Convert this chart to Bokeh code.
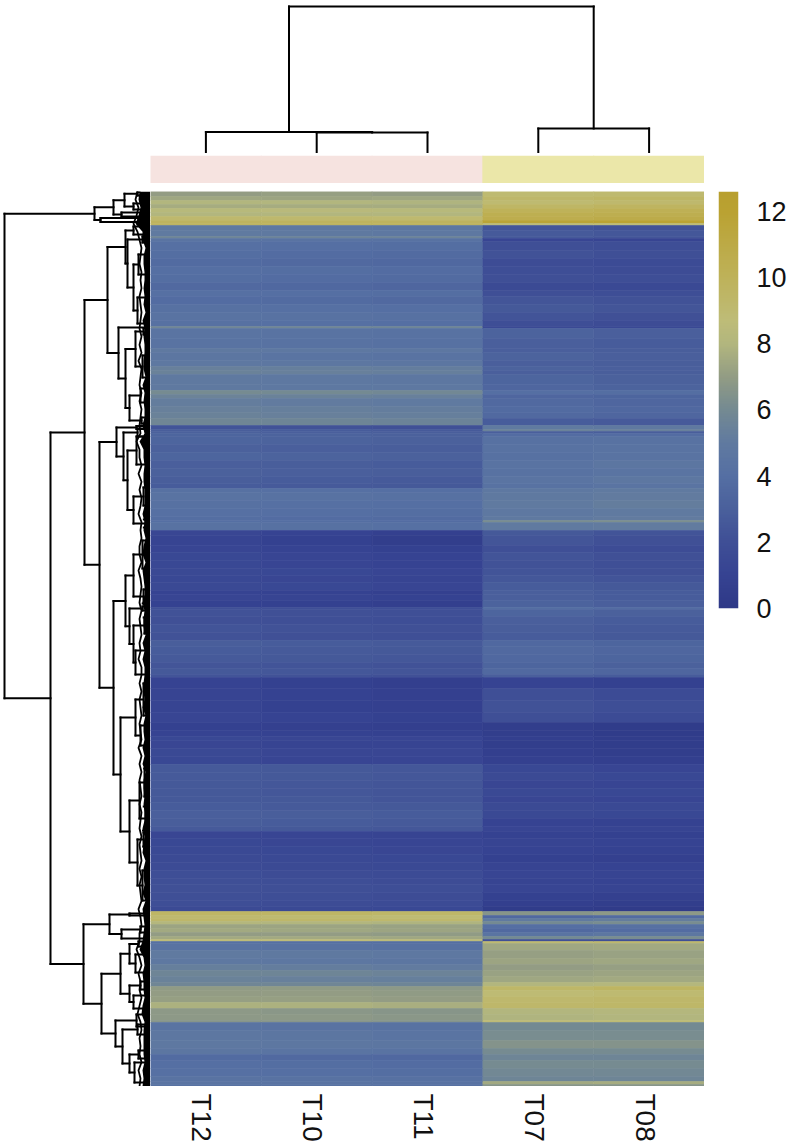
import numpy as np
from bokeh.core.properties import value
from bokeh.embed import file_html
from bokeh.resources import INLINE
from bokeh.layouts import column, row
from bokeh.models import (ColumnDataSource, FactorRange, LinearColorMapper,
                          Range1d, Spacer, FixedTicker)
from bokeh.plotting import figure
from bokeh.transform import transform

samples = ["T12", "T10", "T11", "T07", "T08"]
groups = ["A", "A", "A", "B", "B"]
group_colors = {"A": "#F6E3E0", "B": "#EBE7A9"}
ticks = [0, 2, 4, 6, 8, 10, 12]
vmax = 12.6
stop_values = [0, 1, 2, 3, 4, 5, 6, 7, 8, 8.7, 10, 12, 12.6]
stop_colors = ["#2E3987", "#364392", "#3F4F96", "#4A609C", "#556FA3", "#607AA0", "#748A92",
               "#929C84", "#B2B67E", "#BEBC78", "#BEB25A", "#BAA232", "#B89F2E"]

row_span = [5,4,4,4,4,4,4,3,2,5, 6,2,3,9,8,8,8,8,8,6, 8,8,8,6,2,10,10,4,8,6,
            4,4,10,6,4,4,8,6,6,7, 4,2,2,3,8,8,8,8,8,7, 5,4,8,8,8,4,2,8,5,10,
            7,8,8,7,7,8,4,6,7,2, 7,8,8,8,6,8,8,6,6,3, 11,12,12,10,8,6,4,8,8,8,
            8,8,8,8,6,8,8,8,5,7, 8,8,8,8,8,6,8,8,6,5, 4,3,3,3,4,4,4,3,2,2,
            7,8,6,6,6,6,4,4,6,6, 6,6,6,2,8,10,8,6,6,8, 8,5,3,2]

T12 = [7.0,7.4,8.0,7.6,8.3,8.0,9.2,9.8,9.7,4.9, 5.0,5.7,4.5,4.1,3.9,3.7,4.0,3.9,3.6,4.1,
       3.8,4.2,4.4,4.2,5.8,4.5,4.4,4.9,4.6,4.8, 5.4,5.5,4.9,4.9,6.1,5.6,5.2,5.4,5.5,5.8,
       2.3,2.9,3.1,3.3,3.3,3.1,3.3,3.0,3.1,2.9, 2.8,4.2,4.4,4.2,4.1,3.9,4.0,4.3,1.3,1.1,
       1.2,1.4,1.4,1.5,1.4,1.5,1.0,1.2,0.9,2.1, 2.2,2.1,2.3,2.2,2.9,2.8,2.7,2.4,2.6,2.3,
       1.0,1.1,1.1,1.2,0.8,1.0,1.4,1.3,1.5,1.4, 2.7,2.7,2.6,2.6,2.6,2.8,3.0,2.9,2.7,1.3,
       1.4,1.5,1.6,1.7,1.9,2.0,2.1,2.0,1.9,1.6, 9.5,9.1,9.3,8.1,7.3,7.5,7.0,7.5,8.7,4.1,
       4.4,5.0,4.8,5.3,5.7,5.5,5.8,6.9,7.0,7.1, 7.8,6.8,6.8,6.6,4.5,4.7,4.8,4.6,3.7,4.0,
       4.1,4.4,4.5,4.3]
T10 = [7.1,7.3,8.0,7.6,8.4,8.0,9.2,9.8,9.8,4.8, 4.9,5.6,4.4,4.0,3.8,3.6,3.9,3.8,3.5,4.0,
       3.7,4.1,4.3,4.1,5.8,4.4,4.3,4.8,4.5,4.7, 5.3,5.4,4.8,4.8,6.0,5.5,5.1,5.3,5.4,5.7,
       2.2,2.8,3.0,3.2,3.2,3.0,3.2,2.9,3.0,2.8, 2.7,4.1,4.3,4.1,4.0,3.8,3.9,4.2,1.0,0.8,
       1.0,1.2,1.2,1.4,1.3,1.4,0.9,1.1,0.8,2.0, 2.1,2.0,2.2,2.1,2.8,2.7,2.6,2.3,2.5,2.2,
       0.8,0.9,0.8,1.0,0.7,0.9,1.3,1.1,1.3,1.2, 2.6,2.6,2.5,2.5,2.6,2.7,2.9,2.8,2.6,1.2,
       1.3,1.4,1.5,1.6,1.8,1.9,2.0,1.9,1.8,1.5, 9.5,9.0,9.3,8.0,7.3,7.4,7.0,7.5,8.7,4.0,
       4.3,4.9,4.7,5.2,5.7,5.4,5.8,6.9,7.0,7.1, 7.8,6.7,6.8,6.6,4.4,4.6,4.7,4.5,3.6,3.9,
       4.0,4.3,4.4,4.3]
T11 = [7.0,7.4,7.9,7.6,8.3,8.0,9.1,9.8,9.8,4.7, 4.8,5.6,4.3,3.9,3.7,3.5,3.8,3.7,3.4,3.9,
       3.6,4.0,4.2,4.0,5.7,4.3,4.2,4.7,4.4,4.6, 5.2,5.3,4.7,4.8,5.9,5.4,5.0,5.2,5.3,5.6,
       2.1,2.7,2.9,3.1,3.1,2.9,3.1,2.8,2.9,2.7, 2.6,4.0,4.2,4.0,3.9,3.7,3.8,4.1,0.7,0.5,
       0.8,1.0,1.0,1.2,1.1,1.2,0.7,0.9,0.6,1.9, 2.0,1.9,2.1,2.0,2.7,2.6,2.5,2.2,2.4,2.1,
       0.6,0.7,0.7,0.8,0.6,0.8,1.2,1.1,1.3,1.2, 2.5,2.5,2.4,2.4,2.4,2.6,2.8,2.7,2.5,1.1,
       1.2,1.3,1.4,1.5,1.7,1.8,1.9,1.8,1.7,1.4, 9.4,8.9,9.2,7.9,7.2,7.3,6.9,7.4,8.6,3.9,
       4.2,4.8,4.6,5.1,5.6,5.3,5.7,6.8,6.9,7.0, 7.7,6.6,6.7,6.5,4.3,4.5,4.6,4.4,3.5,3.8,
       3.9,4.2,4.3,4.2]
T07 = [9.0,9.3,9.0,9.5,10.0,10.4,10.6,11.8,8.5,2.4, 2.7,2.6,1.2,2.0,2.2,1.8,1.9,2.0,1.6,2.0,
       2.4,2.6,2.3,1.9,1.5,3.2,3.0,3.0,3.2,3.0, 3.2,3.0,3.3,3.4,4.0,3.4,3.6,3.7,3.6,2.8,
       5.0,5.5,3.0,3.8,4.2,4.3,4.2,4.4,4.3,4.5, 4.3,4.8,4.9,5.0,4.8,4.9,6.2,5.0,2.6,2.4,
       2.0,2.3,2.2,2.3,2.5,2.8,3.0,3.0,3.2,3.9, 3.3,3.0,2.9,2.8,3.5,3.6,3.5,3.3,3.6,3.0,
       1.0,2.0,2.2,2.0,0.5,0.5,0.6,0.5,0.6,0.7, 1.4,1.6,1.3,1.5,1.3,1.6,1.5,1.0,1.2,0.9,
       1.1,1.0,0.8,1.1,1.2,1.1,1.2,0.8,0.6,0.3, 6.6,3.5,5.0,6.0,4.0,3.6,4.5,6.0,2.0,9.0,
       7.4,7.1,7.3,7.0,7.2,7.4,8.0,9.4,8.9,9.2, 9.3,8.0,7.9,8.8,6.0,6.2,6.5,6.1,5.7,6.1,
       5.9,5.7,7.5,6.6]
T08 = [9.1,9.5,9.2,9.7,10.2,10.5,10.8,11.9,8.6,2.2, 2.5,2.4,1.1,1.9,2.0,1.7,1.8,1.9,1.5,1.9,
       2.2,2.4,2.1,1.8,1.4,3.0,2.8,2.9,3.0,2.9, 3.0,2.9,3.1,3.2,3.9,3.3,3.4,3.5,3.4,2.7,
       4.9,5.4,2.9,3.8,4.3,4.4,4.4,4.6,4.5,4.7, 4.5,5.0,5.1,5.2,5.0,5.1,6.3,5.1,2.3,2.1,
       1.8,2.1,2.0,2.1,2.3,2.6,2.8,2.8,3.0,3.8, 3.1,2.8,2.7,2.6,3.3,3.4,3.3,3.1,3.4,2.8,
       0.8,1.7,1.9,1.7,0.3,0.3,0.4,0.4,0.5,0.6, 1.2,1.4,1.2,1.4,1.2,1.5,1.4,0.9,1.1,0.8,
       1.0,0.9,0.7,1.0,1.1,1.0,1.1,0.7,0.5,0.2, 6.8,3.7,5.2,6.2,4.2,3.8,4.7,6.2,2.0,9.2,
       7.5,7.2,7.4,7.1,7.3,7.5,8.1,9.6,9.0,9.3, 9.4,8.1,8.0,8.9,6.0,6.2,6.5,6.1,5.7,6.1,
       5.9,5.7,7.6,6.6]

# Dendrograms: (height, first child, second child); a bare number is a leaf position.
row_tree = (146,
  (56,
    (37,
      (26, (13, 191.5, 195), (17, 203, 209)),
      (29, 212, 216)),
    (50, 217.5, 221.5)),
  (100,
    (66,
      (43,
        (25,
          (17, 226, 234),
          (23,
            (8, 236, 242),
            (17, (12, 254, 274), (13, 297, 323)))),
        (32,
          327,
          (25,
            (15, (7, 328, 334), (8, 355, 377)),
            (21, (10, 388, 402), (9, 417, 423))))),
      (51,
        (34,
          (14, 425.5, 428.5),
          (27,
            (13, 428, 436),
            (23,
              (14, 436, 464),
              (17, (7, 487, 505), (5, 519, 527))))),
        (37,
          (25,
            (17, (8, 540, 568), (7, 589, 603)),
            (21,
              (8, 606, 610),
              (17, (6, 617, 633), (15, 650, 674)))),
          (30,
            (15, (7, 683, 715), (10, 725, 745)),
            (21,
              (11, (6, 768, 796), (5, 806, 830)),
              (13, (7, 832, 846), (8, 870, 900))))))),
    (67,
      (41, (21, 913, 915), (29, (10, 926, 932), 938)),
      (49,
        (30,
          (21, (12, 941, 946), (15, 954, 972)),
          (21, (10, 981, 989), (17, 995, 1008))),
        (35,
          (14, 1014, 1026),
          (28,
            (13, 1024, 1034),
            (21, (12, 1050, 1058), (16, 1062, 1082))))))))

col_tree = (147, (21.5, 0.5, (21, 1.5, 2.5)), (25, 3.5, 4.5))

# Dense twigs next to the heatmap: outer edge and solid core depth, one reading every 8 rows.
fringe_edge = [13,15,12,14,17,13,11,9,10,11, 9,10,9,11,10,9,10,11,9,11, 9,12,9,10,11,9,11,9,10,11,
               10,14,11,11,9,12,9,11,9,10, 12,9,10,9,11,11,9,12,10,9, 10,11,9,11,10,9,11,10,12,9,
               9,11,9,11,10,9,11,10,9,12, 9,11,9,11,10,9,11,9,10,11, 9,11,10,9,11,9,11,10,9,12,
               10,9,11,11,14,11,9,12,10,11, 9,11,13,10,9,11,10,11,9,12, 10,11]
fringe_core = [11,12,10,12,15,8,8,5,7,7, 6,6,7,6,7,5,8,6,7,6, 6,7,7,5,8,6,7,6,6,8,
               6,11,7,7,6,7,7,6,6,6, 8,6,7,5,7,8,5,8,7,6, 6,8,6,7,7,5,8,6,8,6,
               6,7,7,6,8,5,7,7,6,8, 6,8,5,7,7,6,7,6,6,8, 6,7,8,5,7,7,6,8,5,8,
               7,6,7,8,11,7,6,8,7,7, 6,8,9,6,7,7,7,7,6,8, 7,8]

FONT = "Liberation Sans"
LW = 2.0

pos = np.cumsum([0] + row_span)
mapper = LinearColorMapper(
    palette=["#%02X%02X%02X" % tuple(
        int(round(np.interp(v, stop_values, [int(c[i:i + 2], 16) for c in stop_colors]))) for i in (1, 3, 5))
        for v in np.linspace(0, vmax, 256)],
    low=0, high=vmax)


def walk(node, segs, ends):
    """Return the position of a node and collect its segments."""
    if not isinstance(node, tuple):
        return float(node)
    h, a, b = node
    pa, pb = walk(a, segs, ends), walk(b, segs, ends)
    segs.append((h, pa, h, pb))
    for child, p in ((a, pa), (b, pb)):
        ch = child[0] if isinstance(child, tuple) else ends(p)
        segs.append((h, p, ch, p))
    return (pa + pb) / 2


def bare(fig):
    fig.axis.visible = False
    fig.grid.visible = False
    fig.outline_line_color = None
    fig.min_border = 0
    return fig


# ---- left dendrogram
n_rows = int(pos[-1])
left = bare(figure(width=150, height=n_rows, x_range=Range1d(150, 0), y_range=Range1d(n_rows, 0),
                   output_backend="svg", toolbar_location=None))
ROW_TOP = 191
fringe_y = np.arange(len(fringe_edge)) * (n_rows / (len(fringe_edge) - 1))
segs = []
walk(row_tree, segs, lambda p: float(np.interp(p - ROW_TOP, fringe_y, fringe_core)))
segs = np.array(segs)
left.segment(segs[:, 0], segs[:, 1] - ROW_TOP, segs[:, 2], segs[:, 3] - ROW_TOP, line_color="black",
             line_width=LW, line_cap="square")
left.harea(x1=fringe_core, x2=[0] * len(fringe_core), y=fringe_y, fill_color="black")
left.line(x=fringe_edge, y=fringe_y, line_color="black", line_width=1.8)

# ---- top dendrogram
top = bare(figure(width=554, height=153, x_range=Range1d(0, 5), y_range=Range1d(0, 153),
                  output_backend="svg", toolbar_location=None))
segs_c = []
walk(col_tree, segs_c, lambda p: 0.0)
segs_c = np.array(segs_c)
top.segment(segs_c[:, 1], segs_c[:, 0], segs_c[:, 3], segs_c[:, 2], line_color="black",
            line_width=LW, line_cap="square")

# ---- annotation strip
anno = bare(figure(width=554, height=28, x_range=FactorRange(*samples), y_range=Range1d(0, 1),
                   output_backend="svg", toolbar_location=None))
anno.x_range.range_padding = 0
anno.rect(x=samples, y=0.5, width=1.01, height=1, fill_color=[group_colors[g] for g in groups],
          line_color=None)

# ---- heatmap
heat = bare(figure(width=554, height=n_rows, x_range=FactorRange(*samples), y_range=Range1d(n_rows, 0),
                   output_backend="svg", toolbar_location=None))
heat.x_range.range_padding = 0
columns = dict(T12=T12, T10=T10, T11=T11, T07=T07, T08=T08)
xs, ys, hs, vs = [], [], [], []
for name in samples:
    vals = columns[name]
    assert len(vals) == len(row_span), name
    for i, v in enumerate(vals):
        xs.append(name)
        ys.append((pos[i] + pos[i + 1]) / 2)
        hs.append(row_span[i])
        vs.append(v)
src = ColumnDataSource(dict(x=xs, y=ys, h=hs, v=vs))
heat.rect(x="x", y="y", width=1.0, height="h", source=src, fill_color=transform("v", mapper),
          line_color=transform("v", mapper), line_width=0.6)

# ---- sample labels below the heatmap
labels = bare(figure(width=554, height=57, x_range=heat.x_range, y_range=Range1d(57, 0),
                     output_backend="svg", toolbar_location=None))
labels.text(x=samples, y=[7] * len(samples), text=samples, angle=-np.pi / 2, x_offset=-4,
            text_align="left", text_baseline="middle", text_font=value(FONT),
            text_font_size=value("28px"), text_color="#111111")

# ---- colour bar
cbar = figure(width=85, height=417 + 25, x_range=Range1d(0, 1), y_range=Range1d(0, vmax),
              output_backend="svg", toolbar_location=None, y_axis_location="right")
cbar.xaxis.visible = False
cbar.grid.visible = False
cbar.outline_line_color = None
cbar.min_border = 0
cbar.min_border_left = 14
cbar.min_border_right = 43
cbar.min_border_bottom = 25
cbar.image(image=[np.linspace(0, vmax, 256).reshape(256, 1)], x=0, y=0, dw=1, dh=vmax, color_mapper=mapper)
yax = cbar.yaxis[0]
yax.ticker = FixedTicker(ticks=ticks)
yax.axis_line_color = None
yax.major_tick_line_color = None
yax.minor_tick_line_color = None
yax.major_label_text_font = FONT
yax.major_label_text_font_size = "27px"
yax.major_label_text_color = "#111111"
yax.major_label_standoff = 12

page = row(
    column(Spacer(width=150, height=ROW_TOP), left, spacing=0),
    column(top, Spacer(width=554, height=2), anno, Spacer(width=554, height=8), heat, labels, spacing=0),
    column(Spacer(width=85, height=ROW_TOP), cbar, spacing=0),
    spacing=0)

open("out.html", "w").write(file_html(page, INLINE))
